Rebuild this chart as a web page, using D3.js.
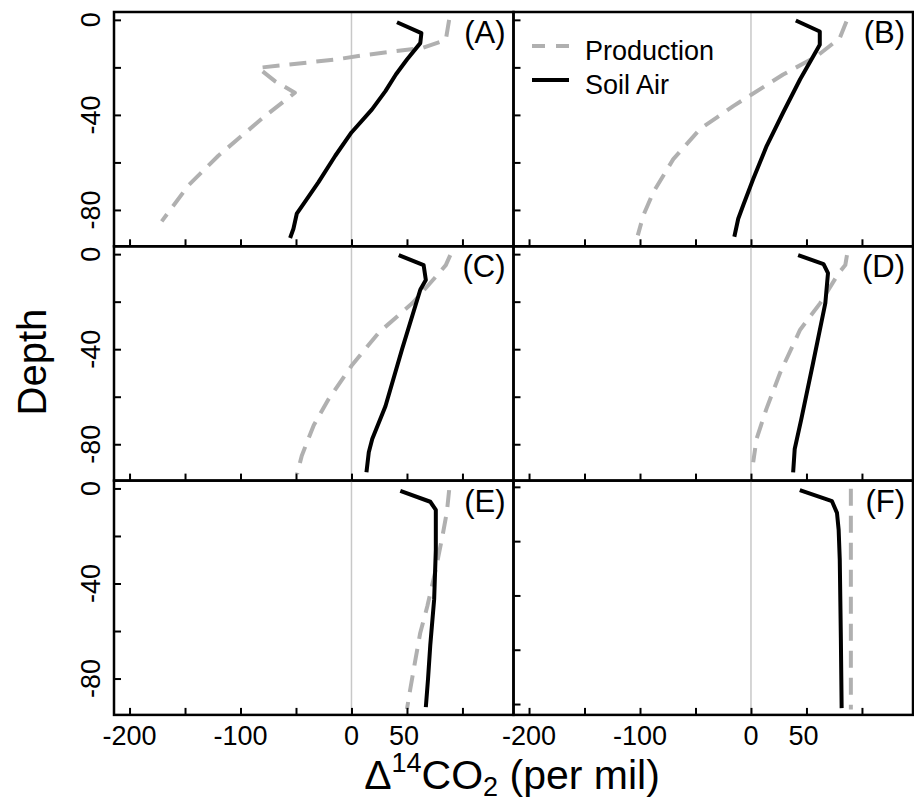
<!DOCTYPE html>
<html>
<head>
<meta charset="utf-8">
<script src="https://cdn.jsdelivr.net/npm/d3@7"></script>
<style>
  body { margin: 0; background: #fff; }
  svg { display: block; font-family: "Liberation Sans", Arial, sans-serif; }
</style>
</head>
<body>
<svg id="chart" width="914" height="801"></svg>
<script>
// each series is a list of [delta14CO2, depth] pairs
const soilA = [[41, -1], [63, -5.6], [62, -9.8], [50, -16.7], [40, -23], [30.6, -30], [18.5, -37.7], [0, -47.4],
  [-14.6, -57.2], [-29.7, -68.3], [-43.2, -77.4], [-49.3, -81.6], [-52.3, -87.9], [-55.3, -91.8]];
const prodA = [[88, 0], [85, -8.4], [64, -11.8], [15.5, -14.6], [-14.6, -16.7], [-60, -19], [-84, -20.2],
  [-69, -25.8], [-51, -30.7], [-78, -40.5], [-120, -57.2], [-147, -69.7], [-171, -84.8]];

const soilB = [[40.4, -0.3], [62, -4.9], [62, -10.5], [56, -15.4], [44.3, -25], [29, -39], [14.2, -53], [2, -67],
  [-7, -78], [-11.5, -83.7], [-15, -91.3]];
const prodB = [[86, -0.7], [80, -7.7], [59, -15.4], [29, -23], [0.6, -31.4], [-16, -36.3], [-46, -46],
  [-70, -58.6], [-88, -72.5], [-97, -82.3], [-102, -90.7]];

const soilC = [[42.6, -0.4], [65, -4.6], [67, -10.9], [62, -15], [45.6, -40], [30.6, -64], [18.7, -77.8],
  [15.6, -83.4], [13.5, -91.8]];
const prodC = [[89, -0.4], [85, -4.6], [76, -9.5], [55, -20.6], [24.6, -33], [0, -47], [-20.6, -61],
  [-34, -72], [-44.8, -84.8], [-49, -92.5]];

const soilD = [[42.5, -0.4], [65.4, -4.2], [69.4, -8], [67, -20.6], [56, -45.7], [45.3, -69.5], [39.4, -82], [38, -91.8]];
const prodD = [[86.5, -0.4], [85, -4.6], [79, -8], [62.4, -20.6], [44.3, -31.8], [26.2, -50], [14, -65],
  [5, -77.8], [2, -87.6]];

const soilE = [[44, -1], [71, -5.6], [76, -9], [76, -25.8], [74.5, -46.7], [71, -66], [69, -80], [67, -92]];
const prodE = [[88, -0.7], [86, -9.8], [82, -20], [76, -34], [68.4, -49.5], [62, -60.7], [57.7, -71.8],
  [53, -84.4], [50, -92.8]];

const soilF = [[44, -1.2], [73, -5.3], [77.5, -9.6], [79, -15.8], [80, -26.8], [81, -56], [81.7, -81.5]];
const prodF = [[90, -0.7], [90, -82]];

const panelNames = ["(A)", "(B)", "(C)", "(D)", "(E)", "(F)"];
const soilSeries = [soilA, soilB, soilC, soilD, soilE, soilF];
const prodSeries = [prodA, prodB, prodC, prodD, prodE, prodF];
const depthDomains = [[3.3, -95.3], [3.3, -95.3], [3.3, -95.3], [3.3, -95.3], [3.3, -95.3], [2.3, -84]];

const xDomain = [-214, 146];
const xTicks = [-200, -150, -100, -50, 0, 50, 100];
const xTickLabels = [-200, -100, 0, 50];
const yTicks = [0, -20, -40, -60, -80];
const yTickLabels = [0, -40, -80];
const legendNames = ["Production", "Soil Air"];

const svg = d3.select("#chart");
const plotLeft = 114, plotTop = 12, panelW = 399.5, panelH = 234.3;
const grey = "#b0b0b0";

const line = (x, y) => d3.line().x(d => x(d[0])).y(d => y(d[1]));

panelNames.forEach((name, i) => {
  const col = i % 2, row = Math.floor(i / 2);
  const x0 = plotLeft + col * panelW, y0 = plotTop + row * panelH;
  const x = d3.scaleLinear().domain(xDomain).range([x0, x0 + panelW]);
  const y = d3.scaleLinear().domain(depthDomains[i]).range([y0, y0 + panelH]);
  const g = svg.append("g");

  // zero reference line
  g.append("line")
    .attr("x1", x(0)).attr("x2", x(0))
    .attr("y1", y0).attr("y2", y0 + panelH)
    .attr("stroke", "#c8c8c8").attr("stroke-width", 1.5);

  g.append("path")
    .attr("d", line(x, y)(prodSeries[i]))
    .attr("fill", "none").attr("stroke", grey)
    .attr("stroke-width", 4).attr("stroke-dasharray", "17,10")
    .attr("stroke-linejoin", "round");

  g.append("path")
    .attr("d", line(x, y)(soilSeries[i]))
    .attr("fill", "none").attr("stroke", "#000")
    .attr("stroke-width", 4).attr("stroke-linejoin", "round");

  // inward ticks
  const ax = g.append("g")
    .attr("transform", "translate(0," + (y0 + panelH) + ")")
    .call(d3.axisBottom(x).tickValues(xTicks).tickSizeInner(-7).tickSizeOuter(0).tickFormat(""));
  const ay = g.append("g")
    .attr("transform", "translate(" + x0 + ",0)")
    .call(d3.axisLeft(y).tickValues(yTicks).tickSizeInner(-7).tickSizeOuter(0).tickFormat(""));
  [ax, ay].forEach(a => {
    a.select(".domain").remove();
    a.selectAll("line").attr("stroke", "#000").attr("stroke-width", 2);
  });

  if (col === 0) {
    yTickLabels.forEach(v => {
      g.append("text")
        .attr("transform", "translate(100," + y(v) + ") rotate(-90)")
        .attr("text-anchor", "middle")
        .attr("font-size", 27)
        .text(v);
    });
  }
  if (row === 2) {
    xTickLabels.forEach(v => {
      g.append("text")
        .attr("x", x(v) - (v === 50 ? 3 : 0)).attr("y", 745)
        .attr("text-anchor", "middle")
        .attr("font-size", 27)
        .text(v);
    });
  }

  g.append("text")
    .attr("x", x0 + panelW - 8).attr("y", y0 + 31)
    .attr("text-anchor", "end")
    .attr("font-size", 31)
    .text(name);

  g.append("rect")
    .attr("x", x0).attr("y", y0)
    .attr("width", panelW).attr("height", panelH)
    .attr("fill", "none").attr("stroke", "#000").attr("stroke-width", 2.5);
});

// legend in panel B
const legend = svg.append("g");
legendNames.forEach((n, i) => {
  const ly = 46 + i * 34;
  legend.append("line")
    .attr("x1", 532).attr("x2", 569).attr("y1", ly).attr("y2", ly)
    .attr("stroke", i === 0 ? grey : "#000").attr("stroke-width", 4)
    .attr("stroke-dasharray", i === 0 ? "13,11" : null);
  legend.append("text")
    .attr("x", 585).attr("y", ly + 13.5)
    .attr("font-size", 27)
    .text(n);
});

// axis titles
const title = svg.append("text")
  .attr("x", 512).attr("y", 789)
  .attr("text-anchor", "middle")
  .attr("font-size", 41);
title.append("tspan").text("Δ");
title.append("tspan").attr("dy", -17).attr("font-size", 27).text("14");
title.append("tspan").attr("dy", 17).text("CO");
title.append("tspan").attr("dy", 7).attr("font-size", 27).text("2");
title.append("tspan").attr("dy", -7).text(" (per mil)");

svg.append("text")
  .attr("transform", "translate(46,362) rotate(-90)")
  .attr("text-anchor", "middle")
  .attr("font-size", 40)
  .text("Depth");
</script>
</body>
</html>
